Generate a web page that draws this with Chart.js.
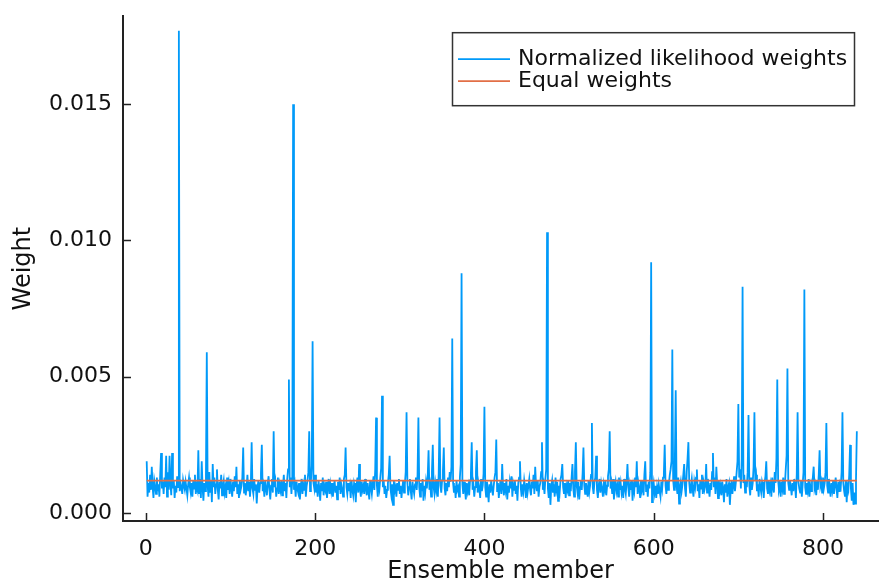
<!DOCTYPE html>
<html><head><meta charset="utf-8">
<script src="https://cdn.jsdelivr.net/npm/chart.js@4"></script>
<style>html,body{margin:0;padding:0;background:#fff}canvas{display:block}</style>
</head><body>
<canvas id="c" width="888" height="584"></canvas>
<script>
// Normalized likelihood weight of each ensemble member (members 1..840)
const weights = [
.0019,.0006,.0011,.00075,.0014,.00085,.0017,.00095,.00055,.0012,.001,.0007,.0013,.0008,.00105,.0006,.00145,.0022,.0009,.00115,
.0007,.0013,.00095,.0021,.0006,.0015,.00085,.0021,.0011,.00065,.0022,.0009,.0012,.00055,.001,.00075,.00135,.00095,.0177,.0008,
.0011,.00095,.0007,.0012,.001,.00085,.00115,.0009,.00065,.00105,.0013,.00095,.00075,.0011,.0006,.0012,.0009,.0014,.0007,.001,
.00085,.0023,.0007,.00125,.00055,.0019,.00095,.00045,.0011,.0008,.0014,.0059,.001,.0006,.0015,.00075,.0012,.0004,.0018,.00095,
.0013,.0007,.00105,.0016,.00085,.0005,.00115,.0009,.0014,.00065,.001,.0012,.00075,.00095,.00055,.0013,.00085,.0011,.0007,.00125,
.0009,.0006,.00115,.0008,.00135,.00095,.0017,.0007,.00105,.00055,.0012,.00085,.001,.0013,.0024,.00075,.0011,.00065,.00095,.0014,
.0008,.00115,.0006,.001,.0026,.0009,.0007,.00125,.00085,.00105,.00035,.00095,.0012,.00075,.0011,.00145,.0025,.0008,.001,.0006,
.0012,.0009,.00065,.0011,.00135,.00085,.0005,.001,.00125,.00075,.003,.00095,.00115,.0006,.0009,.0013,.0007,.00105,.00085,.0012,
.00065,.001,.0014,.0008,.0011,.00055,.00125,.0016,.0049,.00095,.0013,.0007,.0012,.015,.00085,.00105,.0006,.00115,.0009,.00075,
.0011,.0005,.00095,.00125,.0007,.00105,.00085,.0014,.0006,.001,.0012,.0015,.003,.0008,.00115,.00175,.0063,.0011,.0009,.0014,
.00075,.00105,.0006,.0012,.0009,.00045,.0011,.0008,.0013,.00065,.001,.00085,.00115,.00055,.00095,.00125,.0007,.00105,.0008,.0011,
.0006,.00095,.0012,.00075,.001,.0005,.00115,.00085,.0013,.0007,.00105,.0009,.0006,.00125,.0014,.0024,.00095,.0007,.0011,.0008,
.001,.00055,.0012,.00085,.00065,.0011,.00095,.0004,.00105,.0013,.00075,.0018,.0009,.0006,.00115,.00085,.001,.0007,.00125,.0009,
.00065,.0011,.0008,.0005,.0012,.00095,.0007,.00105,.00135,.00085,.0016,.0035,.001,.0006,.00115,.0009,.0013,.00165,.0043,.00095,
.0012,.0007,.001,.00055,.00085,.0011,.0014,.0021,.0009,.00065,.00105,.0003,.0012,.0008,.00095,.0006,.0011,.00085,.00125,.0007,
.001,.00055,.0009,.0012,.00075,.00105,.0015,.0037,.0011,.00065,.00095,.00125,.0008,.0005,.00115,.0009,.0007,.00105,.0013,.00085,
.0014,.0035,.00095,.0006,.0011,.0008,.00125,.00045,.001,.00075,.00115,.0009,.00135,.0023,.00085,.00105,.0006,.0015,.0025,.00095,
.0007,.0011,.00085,.00125,.0006,.00145,.0035,.001,.00075,.0012,.00155,.0024,.0009,.00065,.0011,.0008,.0013,.00095,.0015,.00115,
.0017,.0064,.0011,.00075,.001,.00055,.0012,.00085,.00095,.0006,.0013,.0018,.0088,.00105,.0007,.00115,.0009,.0005,.0011,.0008,
.001,.00065,.0012,.0014,.0026,.00085,.00105,.0006,.00095,.0015,.0023,.00075,.0011,.0009,.00055,.00125,.0008,.001,.00145,.0039,
.00095,.0006,.00115,.00085,.0004,.00105,.00075,.0012,.0009,.00065,.001,.0013,.0015,.0027,.0008,.0011,.00055,.00095,.0012,.0007,
.0018,.00095,.00065,.0011,.00085,.00125,.0005,.001,.00075,.00115,.0009,.00135,.0006,.00105,.00085,.0012,.0007,.001,.00045,.0011,
.0013,.0019,.0009,.0006,.00105,.0008,.0012,.00095,.00055,.0011,.00075,.001,.00125,.00085,.00065,.00115,.0009,.0014,.0007,.0017,
.001,.0008,.0012,.0006,.00095,.0011,.0015,.0026,.00085,.00105,.0007,.00125,.0016,.0103,.0009,.00055,.0011,.0003,.001,.0012,
.00075,.00105,.0006,.0013,.0009,.00115,.00045,.001,.0008,.00125,.0014,.0018,.00095,.0007,.0011,.00055,.001,.00085,.0012,.00065,
.0011,.0008,.0013,.0018,.0009,.0006,.0015,.0026,.001,.00075,.00115,.0005,.00095,.0012,.00085,.00145,.0024,.001,.0007,.0011,
.0009,.0006,.0012,.0008,.00105,.0014,.0033,.00095,.0007,.00115,.0013,.0021,.00085,.00055,.001,.00125,.00075,.0011,.0009,.0006,
.00105,.00085,.0012,.00065,.001,.00135,.0016,.003,.0009,.0011,.0007,.00125,.0005,.00095,.00115,.0008,.001,.0006,.0013,.00085,
.0011,.00075,.001,.00055,.00125,.0009,.0007,.00115,.0018,.00095,.0006,.00105,.00085,.0012,.00045,.001,.0008,.0013,.00095,.0019,
.0007,.0011,.0009,.00055,.0012,.00085,.001,.00065,.0014,.0019,.0008,.00105,.0006,.00115,.0009,.0015,.0092,.0004,.00085,.0011,
.00075,.001,.00055,.00095,.0007,.00105,.0008,.0006,.00115,.0009,.0013,.00145,.0025,.001,.0007,.0012,.00085,.0011,.0014,.0016,
.0019,.006,.0012,.00085,.002,.0045,.001,.0007,.0013,.00035,.00095,.00115,.0008,.00105,.0014,.0018,.0009,.0006,.0015,.002,
.0026,.0011,.00075,.001,.00125,.00085,.0006,.00115,.00095,.0013,.0016,.0008,.00105,.00055,.0012,.0009,.0014,.0007,.0011,.00085,
.001,.0018,.00075,.00125,.0009,.0006,.0011,.00085,.0015,.0022,.00095,.0013,.0007,.0017,.00105,.00055,.0012,.0008,.001,.00065,
.00115,.0009,.0004,.00105,.00075,.00125,.0006,.00095,.0011,.0003,.00085,.0012,.0007,.001,.00135,.0008,.0011,.0015,.0019,.004,
.0013,.0016,.0009,.002,.0083,.0011,.0014,.00075,.0012,.00095,.0015,.0036,.001,.00065,.0013,.00085,.0011,.0017,.0037,.0012,
.0014,.0008,.00105,.0006,.00125,.00095,.00075,.00115,.001,.00055,.0011,.00135,.0019,.0009,.0007,.0012,.00085,.00105,.0006,.0013,
.00095,.00075,.0015,.0011,.002,.0049,.0012,.00085,.001,.0006,.00115,.0009,.0013,.0007,.00105,.0016,.0021,.0053,.0011,.00085,
.0012,.00095,.00065,.0011,.0008,.00125,.001,.00055,.0014,.0037,.00115,.0009,.00075,.0012,.0006,.00105,.0015,.0082,.00095,.0007,
.0011,.00085,.00125,.0006,.001,.0008,.00115,.0013,.0017,.0009,.00105,.00065,.0012,.00085,.0014,.0023,.001,.00115,.00075,.0013,
.0009,.0011,.0015,.0033,.001,.00075,.00125,.00095,.0006,.0011,.00085,.0012,.0007,.001,.0013,.0009,.00055,.00115,.0008,.00105,
.00095,.0015,.0037,.0011,.0008,.0006,.0012,.0004,.001,.00085,.0014,.0025,.0009,.00045,.0011,.0003,.00075,.00035,.0012,.003
];
const equalWeight = 0.00119;            // 1 / number of members
const xTickValues = [0, 200, 400, 600, 800];
const yTickValues = [0, 0.005, 0.010, 0.015];
const seriesLabels = ["Normalized likelihood weights", "Equal weights"];
const xAxisLabel = "Ensemble member";
const yAxisLabel = "Weight";

const BLUE = '#009af9', ORANGE = '#e26f46', AXIS = '#222';
const FONT = 'DejaVu Sans';

const members = weights.map((_, i) => i + 1);
const weightData = weights.map((w, i) => ({ x: members[i], y: w }));
const equalData = [{ x: members[0], y: equalWeight }, { x: members[members.length - 1], y: equalWeight }];

const decorPlugin = {
  id: 'decor',
  afterDraw(chart) {
    const ctx = chart.ctx, ca = chart.chartArea;
    const xs = chart.scales.x, ys = chart.scales.y;
    ctx.save();
    // inward tick marks
    ctx.strokeStyle = AXIS; ctx.lineWidth = 1.5;
    ctx.beginPath();
    xTickValues.forEach(v => { const p = Math.round(xs.getPixelForValue(v)) + 0.5; ctx.moveTo(p, ca.bottom); ctx.lineTo(p, ca.bottom - 8); });
    yTickValues.forEach(v => { const p = Math.round(ys.getPixelForValue(v)) + 0.5; ctx.moveTo(ca.left, p); ctx.lineTo(ca.left + 8, p); });
    ctx.stroke();
    // axis titles
    ctx.fillStyle = '#111';
    ctx.font = '24px "' + FONT + '"';
    ctx.textAlign = 'center'; ctx.textBaseline = 'middle';
    ctx.fillText(xAxisLabel, (ca.left + ca.right) / 2, 572);
    ctx.save();
    ctx.translate(24, (ca.top + ca.bottom) / 2);
    ctx.rotate(-Math.PI / 2);
    ctx.fillText(yAxisLabel, 0, 0);
    ctx.restore();
    // legend
    const bw = 402, bh = 73;
    const bx = ca.right - 24 - bw, by = ca.top + 16;
    ctx.fillStyle = '#fff';
    ctx.fillRect(bx, by, bw, bh);
    ctx.strokeStyle = '#333'; ctx.lineWidth = 1.5;
    ctx.strokeRect(bx + 0.5, by + 0.5, bw, bh);
    const rows = [{ c: BLUE, y: by + 27 }, { c: ORANGE, y: by + 49 }];
    ctx.font = '22px "' + FONT + '"';
    ctx.textAlign = 'left'; ctx.textBaseline = 'middle';
    rows.forEach((r, i) => {
      ctx.strokeStyle = r.c; ctx.lineWidth = 1.8;
      ctx.beginPath(); ctx.moveTo(bx + 6, r.y); ctx.lineTo(bx + 58, r.y); ctx.stroke();
      ctx.fillStyle = '#111';
      ctx.fillText(seriesLabels[i], bx + 66, r.y);
    });
    ctx.restore();
  }
};

new Chart(document.getElementById('c'), {
  type: 'line',
  data: {
    datasets: [
      { label: seriesLabels[0], data: weightData, borderColor: BLUE, borderWidth: 1.8, pointRadius: 0, tension: 0, order: 1 },
      { label: seriesLabels[1], data: equalData, borderColor: ORANGE, borderWidth: 1.8, pointRadius: 0, tension: 0, order: 0 }
    ]
  },
  options: {
    responsive: false, animation: false, events: [],
    layout: { padding: { left: 0, top: 7, right: 10, bottom: 0 } },
    plugins: { legend: { display: false }, tooltip: { enabled: false } },
    scales: {
      x: {
        type: 'linear', min: -27, max: 865,
        afterBuildTicks: s => { s.ticks = xTickValues.map(v => ({ value: v })); },
        afterFit: s => { s.height = 63; },
        ticks: { font: { family: FONT, size: 22 }, color: '#111', padding: 7, maxRotation: 0, autoSkip: false, callback: v => String(v) },
        grid: { display: false },
        border: { display: true, color: AXIS, width: 2 }
      },
      y: {
        type: 'linear', min: -0.000293, max: 0.01823,
        afterBuildTicks: s => { s.ticks = yTickValues.map(v => ({ value: v })); },
        afterFit: s => { s.width = 123; },
        ticks: { font: { family: FONT, size: 22 }, color: '#111', padding: 3, autoSkip: false, callback: v => v.toFixed(3) },
        grid: { display: false },
        border: { display: true, color: AXIS, width: 2 }
      }
    }
  },
  plugins: [decorPlugin]
});
</script>
</body></html>
